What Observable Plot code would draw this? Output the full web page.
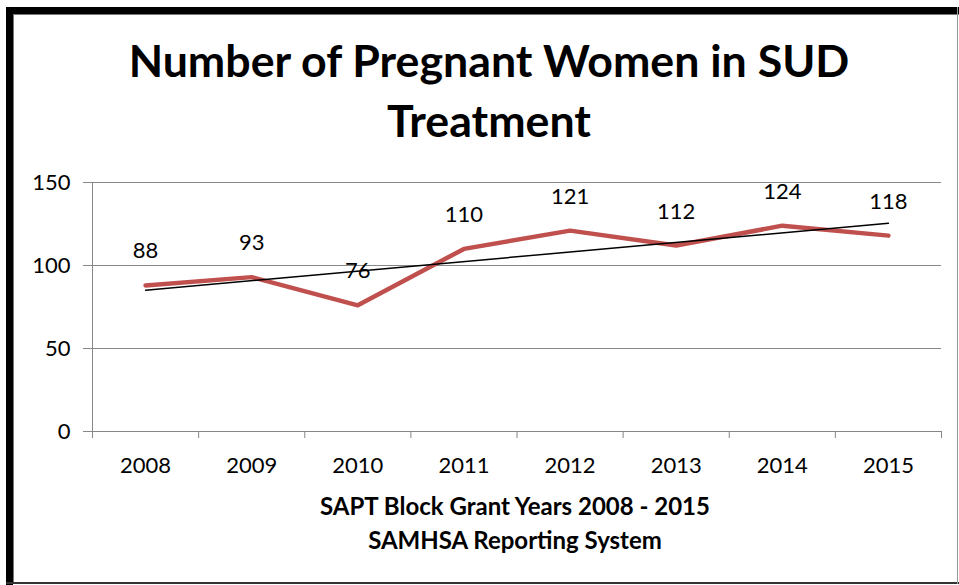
<!DOCTYPE html>
<html>
<head>
<meta charset="utf-8">
<script src="https://cdn.jsdelivr.net/npm/d3@7"></script>
<script src="https://cdn.jsdelivr.net/npm/@observablehq/plot@0.6"></script>
<style>
  html, body { margin: 0; padding: 0; background: #fff; }
  #wrap { position: relative; width: 959px; height: 585px; overflow: hidden; background: #fff; font-family: Lato, "Open Sans", sans-serif; }
  .bar { position: absolute; }
  #title { position: absolute; left: 0; width: 978px; top: 30px; text-align: center; font-weight: 700; font-size: 44.7px; line-height: 60px; color: #000; }
  #foot { position: absolute; left: 0; width: 1030px; top: 489px; text-align: center; font-weight: 700; font-size: 24px; line-height: 34px; color: #000; }
  #chart { position: absolute; left: 0; top: 0; }
</style>
</head>
<body>
<div id="wrap">
  <div id="chart"></div>
  <div id="title">Number of Pregnant Women in SUD<br>Treatment</div>
  <div id="foot">SAPT Block Grant Years 2008 - 2015<br>SAMHSA Reporting System</div>
  <div class="bar" style="left:6px;top:7px;width:953px;height:7px;background:#000"></div>
  <div class="bar" style="left:13px;top:14px;width:946px;height:1px;background:#777"></div>
  <div class="bar" style="left:6px;top:7px;width:7px;height:578px;background:#000"></div>
  <div class="bar" style="left:13px;top:14px;width:1px;height:570px;background:#777"></div>
  <div class="bar" style="left:6px;top:582px;width:953px;height:2px;background:#333"></div>
  <div class="bar" style="left:957px;top:7px;width:1px;height:577px;background:#999"></div>
</div>
<script>
const years = ["2008", "2009", "2010", "2011", "2012", "2013", "2014", "2015"];
const values = [88, 93, 76, 110, 121, 112, 124, 118];
const yTicks = [0, 50, 100, 150];

const data = years.map((y, i) => ({i, year: y, value: values[i]}));
const bounds = d3.range(years.length + 1).map(k => k - 0.5);
const gray = "#878787";

const chart = Plot.plot({
  width: 959,
  height: 585,
  marginLeft: 92,
  marginRight: 18,
  marginTop: 182,
  marginBottom: 154,
  style: {fontFamily: "Lato, 'Open Sans', sans-serif", fontSize: "22px", color: "#000", background: "transparent"},
  x: {domain: [-0.5, years.length - 0.5]},
  y: {domain: [0, 150]},
  marks: [
    Plot.gridY(yTicks.filter(t => t > 0), {stroke: gray, strokeOpacity: 1, strokeWidth: 1}),
    Plot.ruleY([0], {stroke: gray, strokeWidth: 1}),
    Plot.ruleX([-0.5], {y1: 0, y2: 150, stroke: gray, strokeWidth: 1}),
    Plot.axisY(yTicks, {tickSize: 9, tickPadding: 13, stroke: gray, fill: "#000", label: null, fontSize: 22}),
    Plot.axisX(bounds, {tickSize: 7, tickFormat: () => "", stroke: gray, label: null}),
    Plot.axisX(d3.range(years.length), {tickSize: 0, tickPadding: 26, tickFormat: i => years[i], fill: "#000", label: null, fontSize: 22}),
    Plot.line(data, {x: "i", y: "value", stroke: "#C0504D", strokeWidth: 4.5}),
    Plot.linearRegressionY(data, {x: "i", y: "value", stroke: "#000", strokeWidth: 1.5, ci: 0}),
    Plot.text(data, {x: "i", y: "value", text: d => String(d.value), dy: -34, lineAnchor: "middle", fill: "#000", fontSize: 22})
  ]
});
document.getElementById("chart").appendChild(chart);
</script>
</body>
</html>
